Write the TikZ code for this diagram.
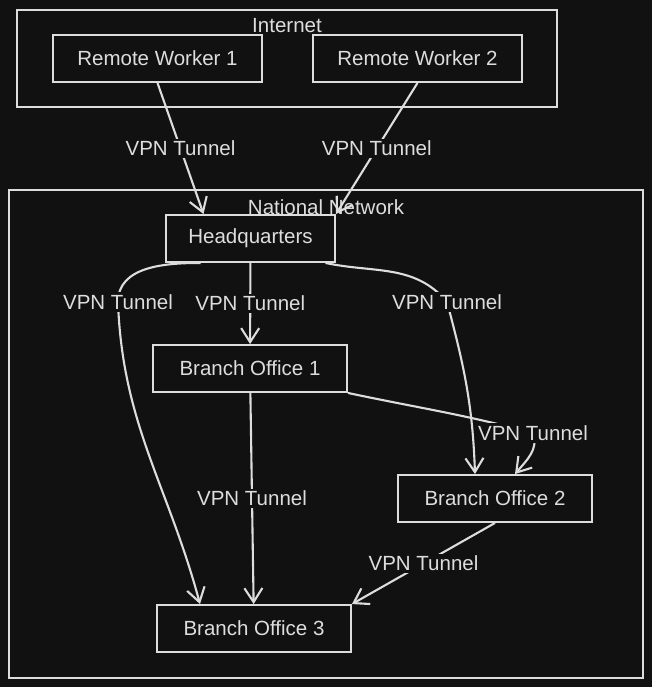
\documentclass[tikz,border=0pt]{standalone}
\usepackage{fontspec}
\setmainfont{Liberation Sans}
\usetikzlibrary{arrows.meta, positioning}
\definecolor{canvas-fill}{HTML}{111111}
\definecolor{ink-color}{HTML}{DDDDDD}
\tikzset{
  site-node/.style={
    draw=ink-color, fill=canvas-fill, line width=1.9pt, text=ink-color,
    minimum height=47pt, align=center, font=\fontsize{20.5}{24}\selectfont
  },
  zone-box/.style={draw=ink-color, line width=1.9pt},
  zone-title/.style={text=ink-color, font=\fontsize{20.5}{24}\selectfont},
  tunnel/.style={-{Straight Barb[length=14pt, width=18pt]}, line width=2.1pt, draw=ink-color},
  tunnel-label/.style={fill=canvas-fill, text=ink-color, inner sep=2pt, font=\fontsize{20.5}{24}\selectfont}
}

\begin{document}
\begin{tikzpicture}[x=1pt, y=-1pt]
  \fill[canvas-fill] (0,0) rectangle (652,687);

  % zones
  \node[zone-box, minimum width=540pt, minimum height=97pt] (internet-zone) at (287,58.5) {};
  \node[zone-title] (internet-title) at (287,26) {Internet};
  \node[zone-box, minimum width=634pt, minimum height=488pt] (national-zone) at (326,434) {};
  \node[zone-title] (national-title) at (326,207) {National Network};

  \node[site-node, minimum width=209pt] (remote-1) at (157.5,58.5) {Remote Worker 1};
  \node[site-node, minimum width=209pt] (remote-2) at (417.5,58.5) {Remote Worker 2};
  \node[site-node, minimum width=169pt] (hq)       at (250.5,238.5) {Headquarters};
  \node[site-node, minimum width=194pt] (branch-1) at (250,368.5) {Branch Office 1};
  \node[site-node, minimum width=194pt] (branch-2) at (495,498.5) {Branch Office 2};
  \node[site-node, minimum width=194pt] (branch-3) at (254,628.5) {Branch Office 3};

  \coordinate (via-hq-b3) at (118,302);
  \coordinate (via-hq-b2) at (447,302);
  \coordinate (via-b1-b2) at (533,433);

  \draw[tunnel] (remote-1.south) -- node[tunnel-label] {VPN Tunnel} ([xshift=-47pt]hq.north);
  \draw[tunnel] (remote-2.south) -- node[tunnel-label] {VPN Tunnel} (hq.north east);
  \draw[tunnel] (hq) -- node[tunnel-label] {VPN Tunnel} (branch-1);
  \draw[tunnel] (branch-1) -- node[tunnel-label] {VPN Tunnel} (branch-3);
  \draw[tunnel] (branch-2.south) -- node[tunnel-label] {VPN Tunnel} (branch-3.north east);

  \draw[tunnel] ([xshift=-50pt]hq.south) to[out=180, in=90] (via-hq-b3)
    to[out=-88, in=105] ([xshift=-54pt]branch-3.north);
  \draw[tunnel] ([xshift=75pt]hq.south) to[out=-12, in=130] (via-hq-b2)
    to[out=-75, in=92] ([xshift=-20pt]branch-2.north);
  \draw[tunnel] (branch-1.south east) to[out=-12, in=165] (via-b1-b2)
    to[out=-70, in=50] ([xshift=20pt]branch-2.north);

  \node[tunnel-label] (label-hq-b3) at (via-hq-b3) {VPN Tunnel};
  \node[tunnel-label] (label-hq-b2) at (via-hq-b2) {VPN Tunnel};
  \node[tunnel-label] (label-b1-b2) at (via-b1-b2) {VPN Tunnel};
\end{tikzpicture}
\end{document}
